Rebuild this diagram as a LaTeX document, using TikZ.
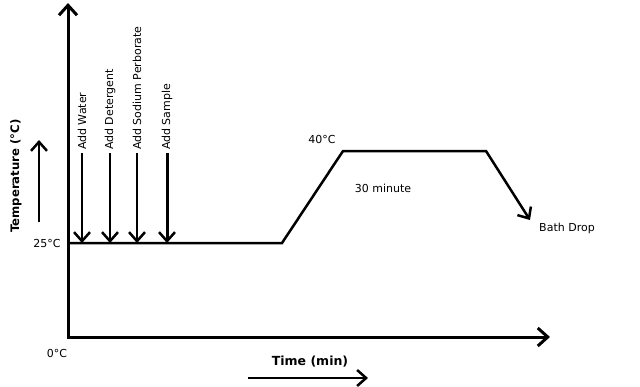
\documentclass[tikz,border=0pt]{standalone}
\usepackage{fontspec}
\setmainfont{DejaVu Sans}
\usetikzlibrary{arrows.meta}

\begin{document}
\begin{tikzpicture}[x=1pt, y=-1pt, font=\fontsize{11}{13}\selectfont,
    axis/.style={line width=3pt, line join=miter},
    arr/.style={line width=2.5pt, -{Straight Barb[length=9pt, width=16pt, line width=2.5pt]}},
    step label/.style={rotate=90, anchor=west, inner sep=3pt}]

    \useasboundingbox (0,0) rectangle (640,386);

    \coordinate (ytop) at (68,3);
    \coordinate (o) at (68,337);
    \coordinate (xend) at (550,337);
    \coordinate (base) at (68,243);
    \coordinate (rise) at (282,243);
    \coordinate (hot) at (343,151);
    \coordinate (cool) at (486,151);
    \coordinate (drop) at (530,220);

    \node (t25) at (47,243) {25°C};
    \node (t0) at (57,353) {0°C};
    \node (t40) at (322,139) {40°C};
    \node (hold) at (383,188) {30 minute};
    \node (bath) at (567,228) {Bath Drop};
    \node [rotate=90, font=\fontsize{11.7}{13}\selectfont\bfseries] (templabel) at (16,176) {Temperature (°C)};
    \node [font=\fontsize{12.5}{14}\selectfont\bfseries] (timelabel) at (310,362) {Time (min)};

    \node [step label] (water) at (82,153) {Add Water};
    \node [step label] (detergent) at (110,153) {Add Detergent};
    \node [step label] (perborate) at (137,153) {Add Sodium Perborate};
    \node [step label] (sample) at (167,153) {Add Sample};

    \coordinate (tlow) at (39,222);
    \coordinate (thigh) at (39,140);
    \coordinate (tleft) at (248,378);
    \coordinate (tright) at (368,378);

    \draw [axis, {Straight Barb[length=10pt, width=18pt]}-{Straight Barb[length=10pt, width=18pt]}] (ytop) -- (o) -- (xend);
    \draw [arr, line join=miter] (base) -- (rise) -- (hot) -- (cool) -- (drop);

    \draw [arr] (water.west) -- (water.west |- base);
    \draw [arr] (detergent.west) -- (detergent.west |- base);
    \draw [arr] (perborate.west) -- (perborate.west |- base);
    \draw [arr, line width=3pt] (sample.west) -- (sample.west |- base);

    \draw [arr] (tlow) -- (thigh);
    \draw [arr] (tleft) -- (tright);

\end{tikzpicture}
\end{document}
